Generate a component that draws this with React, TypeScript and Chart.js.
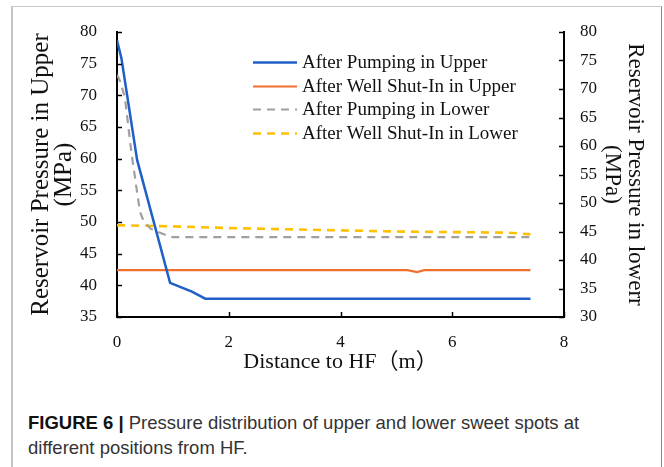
import React, { useEffect, useRef } from "react";
import { Chart, registerables } from "chart.js";

Chart.register(...registerables);

// ---- data ----
const xTickStep = 2;
const xMin = 0;
const xMax = 8;
const yLeftMin = 35;
const yLeftMax = 80;
const yRightMin = 30;
const yRightMax = 80;
const yStep = 5;

const seriesLabels = [
  "After Pumping in Upper",
  "After Well Shut-In in Upper",
  "After Pumping in Lower",
  "After Well Shut-In in Lower",
];

const pumpUpperX = [0, 0.08, 0.36, 0.95, 1.34, 1.58, 7.4];
const pumpUpperY = [78.7, 75.8, 59.8, 40.4, 39.0, 37.9, 37.9];

const shutUpperX = [0, 5.2, 5.37, 5.5, 7.4];
const shutUpperY = [42.4, 42.4, 42.1, 42.4, 42.4];

const pumpLowerX = [0, 0.05, 0.14, 0.26, 0.41, 0.47, 0.6, 0.89, 1.0, 7.4];
const pumpLowerY = [72.5, 71.5, 68.6, 58.7, 48.5, 47.0, 45.5, 44.3, 44.0, 44.0];

const shutLowerX = [0, 1, 2, 3, 4, 5, 6, 7, 7.4];
const shutLowerY = [46.1, 45.9, 45.6, 45.4, 45.2, 45.0, 44.9, 44.8, 44.5];

const leftTitle = ["Reservoir Pressure in Upper", "(MPa)"];
const rightTitle = ["Reservoir Pressure in lowerr", "(MPa)"];
const xTitle = "Distance to HF（m）";

const colors = ["#1f5fc8", "#f07030", "#a0a0a0", "#ffc000"];

const zip = (xs: number[], ys: number[]) => xs.map((x, i) => ({ x, y: ys[i] }));

const SERIF = "'Liberation Serif', 'Times New Roman', 'Noto Sans CJK SC', serif";

const innerTicks = {
  id: "innerTicks",
  afterDraw(chart: any) {
    const ctx = chart.ctx;
    ctx.save();
    ctx.strokeStyle = "#000";
    ctx.lineWidth = 1.5;
    const sx = chart.scales.x;
    sx.ticks.forEach((t: any) => {
      const px = Math.round(sx.getPixelForValue(t.value)) + 0.5;
      ctx.beginPath();
      ctx.moveTo(px, sx.top);
      ctx.lineTo(px, sx.top - 5);
      ctx.stroke();
    });
    const yl = chart.scales.y;
    yl.ticks.forEach((t: any) => {
      const py = Math.round(yl.getPixelForValue(t.value)) + 0.5;
      ctx.beginPath();
      ctx.moveTo(yl.right, py);
      ctx.lineTo(yl.right + 5, py);
      ctx.stroke();
    });
    const yr = chart.scales.y1;
    yr.ticks.forEach((t: any) => {
      const py = Math.round(yr.getPixelForValue(t.value)) + 0.5;
      ctx.beginPath();
      ctx.moveTo(yr.left, py);
      ctx.lineTo(yr.left - 5, py);
      ctx.stroke();
    });
    ctx.restore();
  },
};

const insideLegend = {
  id: "insideLegend",
  afterDraw(chart: any) {
    const ctx = chart.ctx;
    const area = chart.chartArea;
    const x1 = area.left + 136;
    const x2 = x1 + 44;
    const y0 = area.top + 30;
    const gap = 23.7;
    ctx.save();
    ctx.font = `19px ${SERIF}`;
    ctx.textBaseline = "middle";
    ctx.textAlign = "left";
    chart.data.datasets.forEach((ds: any, i: number) => {
      const y = Math.round(y0 + i * gap) + 0.5;
      ctx.strokeStyle = ds.borderColor;
      ctx.lineWidth = ds.borderWidth;
      ctx.setLineDash(ds.borderDash || []);
      ctx.beginPath();
      ctx.moveTo(x1, y);
      ctx.lineTo(x2, y);
      ctx.stroke();
      ctx.setLineDash([]);
      ctx.fillStyle = "#111";
      ctx.fillText(ds.label, x2 + 5, y + 1);
    });
    ctx.restore();
  },
};

function ChartView() {
  const ref = useRef<HTMLCanvasElement | null>(null);
  useEffect(() => {
    if (!ref.current) return;
    const chart = new Chart(ref.current, {
      type: "line",
      data: {
        datasets: [
          {
            label: seriesLabels[0],
            data: zip(pumpUpperX, pumpUpperY),
            borderColor: colors[0],
            borderWidth: 2.5,
            pointRadius: 0,
            yAxisID: "y",
          },
          {
            label: seriesLabels[1],
            data: zip(shutUpperX, shutUpperY),
            borderColor: colors[1],
            borderWidth: 2.2,
            pointRadius: 0,
            yAxisID: "y",
          },
          {
            label: seriesLabels[2],
            data: zip(pumpLowerX, pumpLowerY),
            borderColor: colors[2],
            borderWidth: 2.2,
            borderDash: [8, 6],
            pointRadius: 0,
            yAxisID: "y1",
          },
          {
            label: seriesLabels[3],
            data: zip(shutLowerX, shutLowerY),
            borderColor: colors[3],
            borderWidth: 2.6,
            borderDash: [8, 6],
            pointRadius: 0,
            yAxisID: "y1",
          },
        ],
      },
      options: {
        responsive: false,
        animation: false,
        devicePixelRatio: 1,
        layout: { padding: { top: 32, left: 0, right: 0, bottom: 0 } },
        plugins: {
          legend: { display: false },
          tooltip: { enabled: false },
        },
        scales: {
          x: {
            type: "linear",
            min: xMin,
            max: xMax,
            ticks: {
              stepSize: xTickStep,
              padding: 15,
              color: "#111",
              font: { family: SERIF, size: 17 },
            },
            grid: { display: false, drawTicks: false },
            border: { display: true, color: "#000", width: 2 },
            title: {
              display: true,
              text: xTitle,
              color: "#111",
              font: { family: SERIF, size: 22, lineHeight: 1 },
              padding: { top: 0, bottom: 7 },
            },
            afterFit(scale: any) {
              scale.height = 63;
            },
          },
          y: {
            type: "linear",
            position: "left",
            min: yLeftMin,
            max: yLeftMax,
            ticks: {
              stepSize: yStep,
              padding: 20,
              color: "#111",
              font: { family: SERIF, size: 17 },
            },
            grid: { display: false, drawTicks: false },
            border: { display: true, color: "#000", width: 2 },
            title: {
              display: true,
              text: leftTitle,
              color: "#111",
              font: { family: SERIF, size: 25, lineHeight: "23px" },
              padding: { top: 30, bottom: 0 },
            },
            afterFit(scale: any) {
              scale.width = 117;
            },
          },
          y1: {
            type: "linear",
            position: "right",
            min: yRightMin,
            max: yRightMax,
            ticks: {
              stepSize: yStep,
              padding: 16,
              color: "#111",
              font: { family: SERIF, size: 17 },
            },
            grid: { display: false, drawTicks: false },
            border: { display: true, color: "#000", width: 2 },
            title: {
              display: true,
              text: rightTitle,
              color: "#111",
              font: { family: SERIF, size: 23, lineHeight: "23px" },
              padding: { top: 17.5, bottom: 0 },
            },
            afterFit(scale: any) {
              scale.width = 100;
            },
          },
        },
      },
      plugins: [innerTicks, insideLegend],
    } as any);
    return () => chart.destroy();
  }, []);
  return (
    <canvas
      ref={ref}
      width={664}
      height={380}
      style={{ position: "absolute", left: 0, top: 0, width: 664, height: 380 }}
    />
  );
}

export default function App() {
  return (
    <div
      style={{
        position: "absolute",
        left: 0,
        top: 0,
        width: 664,
        height: 467,
        overflow: "hidden",
        background: "#fff",
      }}
    >
      <div
        style={{
          position: "absolute",
          left: 11,
          top: 6,
          width: 648,
          height: 480,
          borderLeft: "2px solid #c4c4c4",
          borderTop: "1px solid #c8c8c8",
          borderRight: "1px solid #8a8a8a",
        }}
      />
      <ChartView />
      <div
        style={{
          position: "absolute",
          left: 28,
          top: 410,
          fontFamily: "'Liberation Sans', Arial, sans-serif",
          fontSize: 18.5,
          lineHeight: "25px",
          color: "#333",
          whiteSpace: "nowrap",
        }}
      >
        <span style={{ fontWeight: "bold", color: "#111" }}>FIGURE 6 |</span> Pressure distribution of
        upper and lower sweet spots at
        <br />
        different positions from HF.
      </div>
    </div>
  );
}
